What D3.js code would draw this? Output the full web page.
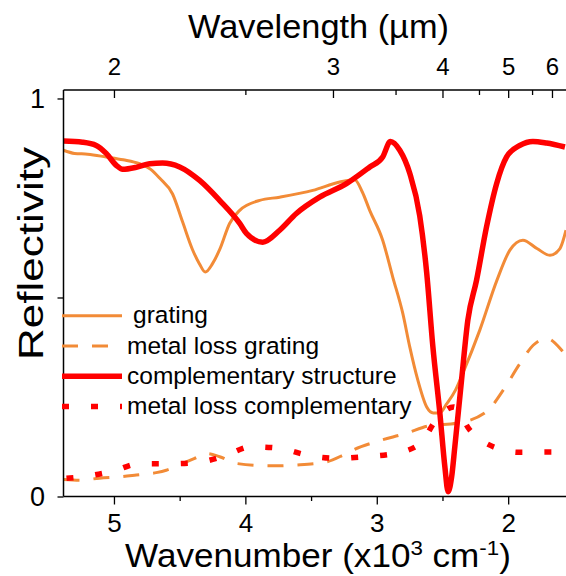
<!DOCTYPE html>
<html><head><meta charset="utf-8">
<script src="https://cdn.jsdelivr.net/npm/d3@7"></script>
<style>body{margin:0;background:#fff}svg{display:block}text{font-family:"Liberation Sans",Arial,sans-serif;fill:#000}</style>
</head><body><svg id="c" width="566" height="576"></svg>
<script>
// wavenumber in x10^3 cm^-1, reflectivity
const gratingX = [5.384,5.30,5.20,5.059,4.93,4.805,4.72,4.653,4.554,4.478,4.402,4.35,4.305,4.25,4.196,4.120,4.043,3.891,3.739,3.487,3.282,3.168,3.11,3.054,2.955,2.879,2.802,2.749,2.688,2.620,2.57,2.52,2.47,2.40,2.345,2.216,2.086,1.987,1.888,1.781,1.682,1.606,1.56];
const gratingY = [0.870,0.862,0.860,0.853,0.846,0.836,0.822,0.800,0.760,0.690,0.620,0.585,0.564,0.585,0.620,0.686,0.719,0.744,0.752,0.769,0.790,0.796,0.765,0.719,0.644,0.552,0.460,0.376,0.293,0.225,0.210,0.210,0.232,0.268,0.310,0.418,0.543,0.619,0.644,0.623,0.606,0.623,0.669];

const lossGratingX = [5.384,5.262,5.110,4.935,4.830,4.678,4.602,4.478,4.386,4.297,4.196,4.069,3.792,3.612,3.383,3.257,3.180,3.002,2.774,2.596,2.393,2.165,2.038,1.911,1.810,1.708,1.581,1.56];
const lossGratingY = [0.043,0.041,0.046,0.050,0.054,0.060,0.066,0.083,0.096,0.108,0.100,0.083,0.077,0.079,0.087,0.104,0.117,0.138,0.159,0.178,0.184,0.213,0.267,0.334,0.380,0.397,0.363,0.355];

const compX = [5.384,5.239,5.135,5.059,4.982,4.935,4.830,4.729,4.630,4.500,4.348,4.196,4.043,3.992,3.868,3.739,3.612,3.435,3.231,3.053,2.955,2.896,2.825,2.749,2.673,2.621,2.573,2.520,2.482,2.457,2.430,2.406,2.355,2.307,2.241,2.165,2.088,2.012,1.911,1.812,1.708,1.568];
const compY = [0.893,0.890,0.882,0.862,0.832,0.822,0.827,0.836,0.838,0.828,0.794,0.744,0.686,0.661,0.639,0.669,0.711,0.752,0.786,0.828,0.853,0.892,0.870,0.812,0.705,0.565,0.376,0.210,0.075,0.012,0.050,0.125,0.292,0.443,0.543,0.677,0.786,0.853,0.882,0.892,0.888,0.878];

const lossCompX = [5.384,5.211,4.995,4.813,4.592,4.373,4.158,3.954,3.739,3.531,3.312,3.091,2.880,2.667,2.558,2.414,2.292,2.114,1.911,1.695,1.56];
const lossCompY = [0.045,0.051,0.065,0.082,0.082,0.085,0.102,0.125,0.121,0.104,0.096,0.100,0.107,0.133,0.188,0.225,0.167,0.125,0.111,0.112,0.112];

const bottomTicks = [5,4,3,2];
const bottomMinor = [4.5,3.5,2.5];
const topTicks = [2,3,4,5,6];          // wavelength, um
const topMinor = [2.5,3.5,4.5,5.5];
const yTicks = [0,0.5,1];
const yLabels = {0:"0",1:"1"};

const legendItems = [
  {label:"grating", color:"#F28B37", width:3, dash:null, dx:6},
  {label:"metal loss grating", color:"#F28B37", width:3, dash:"16,14", dx:0},
  {label:"complementary structure", color:"#FF0000", width:5.5, dash:null, dx:0},
  {label:"metal loss complementary", color:"#FF0000", width:5.5, dash:"7,22", dx:0}
];

const svg = d3.select("#c");
const L=63.5, R=566, T=90, B=496.5;
const x = d3.scaleLinear().domain([5.384,1.56]).range([L,R]);
const y = d3.scaleLinear().domain([0,1.0213]).range([B,T]);

const line = d3.line().x(d=>x(d[0])).y(d=>y(d[1])).curve(d3.curveMonotoneX);
const zip=(a,b)=>a.map((v,i)=>[v,b[i]]);

const series = [
  {d:zip(gratingX,gratingY), it:legendItems[0]},
  {d:zip(lossGratingX,lossGratingY), it:legendItems[1]},
  {d:zip(compX,compY), it:legendItems[2]},
  {d:zip(lossCompX,lossCompY), it:legendItems[3]}
];
const plot = svg.append("g");
svg.append("clipPath").attr("id","cp").append("rect").attr("x",L).attr("y",T).attr("width",R-L+2).attr("height",B-T);
plot.attr("clip-path","url(#cp)");
series.forEach(s=>{
  plot.append("path").attr("d",line(s.d)).attr("fill","none")
    .attr("stroke",s.it.color).attr("stroke-width",s.it.width)
    .attr("stroke-dasharray",s.it.dash).attr("stroke-dashoffset", s.it.dash==="7,22"? -3: 0)
    .attr("stroke-linejoin","round");
});

// axes
function styleAxis(g,fs){
  g.select(".domain").remove();
  g.selectAll(".tick line").attr("stroke","#000").attr("stroke-width",1.3);
  g.selectAll("text").attr("font-size",fs).attr("fill","#000").attr("font-family",'"Liberation Sans",Arial,sans-serif');
}
const gb = svg.append("g").attr("transform",`translate(0,${B})`)
  .call(d3.axisBottom(x).tickValues(bottomTicks).tickSize(8).tickPadding(9).tickFormat(d3.format("d")));
styleAxis(gb,26);
const gbm = svg.append("g").attr("transform",`translate(0,${B})`)
  .call(d3.axisBottom(x).tickValues(bottomMinor).tickSize(4.5).tickFormat(""));
styleAxis(gbm,26);

const gt = svg.append("g").attr("transform",`translate(0,${T})`)
  .call(d3.axisTop(x).tickValues(topTicks.map(l=>10/l)).tickSize(-8).tickPadding(15).tickFormat((d,i)=>topTicks[i]));
styleAxis(gt,24);
const gtm = svg.append("g").attr("transform",`translate(0,${T})`)
  .call(d3.axisTop(x).tickValues(topMinor.map(l=>10/l)).tickSize(-5).tickFormat(""));
styleAxis(gtm,24);

const gl = svg.append("g").attr("transform",`translate(${L},0)`)
  .call(d3.axisLeft(y).tickValues(yTicks).tickSize(6).tickPadding(12.5).tickFormat(d=>yLabels[d]||""));
styleAxis(gl,27);

// frame lines
svg.append("line").attr("x1",L).attr("x2",R).attr("y1",B).attr("y2",B).attr("stroke","#000").attr("stroke-width",1.5);
svg.append("line").attr("x1",L).attr("x2",R).attr("y1",T).attr("y2",T).attr("stroke","#000").attr("stroke-width",1.5);
svg.append("line").attr("x1",L).attr("x2",L).attr("y1",T).attr("y2",B).attr("stroke","#000").attr("stroke-width",1.5);

// legend
const lg = svg.append("g");
legendItems.forEach((it,i)=>{
  const yy = 315.7 + i*30.3;
  lg.append("line").attr("x1",62).attr("x2",122).attr("y1",yy).attr("y2",yy)
    .attr("stroke",it.color).attr("stroke-width",it.width).attr("stroke-dasharray",it.dash);
  lg.append("text").attr("x",127+it.dx).attr("y",yy+7.5).attr("font-size",24.5).text(it.label);
});

// titles fitted to measured extents
function fit(t, cx, cy, w, rot){
  const n = t.node().getComputedTextLength();
  t.attr("text-anchor","middle").attr("transform",`translate(${cx},${cy})${rot?" rotate(-90)":""} scale(${w/n},1)`);
}
const tt = svg.append("text").attr("font-size",33).text("Wavelength (µm)");
fit(tt, 318.5, 37.5, 261);
const bt = svg.append("text").attr("font-size",33);
bt.append("tspan").text("Wavenumber (x10");
bt.append("tspan").attr("font-size",21).attr("dy",-12).text("3");
bt.append("tspan").attr("dy",12).text(" cm");
bt.append("tspan").attr("font-size",21).attr("dy",-12).text("-1");
bt.append("tspan").attr("dy",12).text(")");
fit(bt, 318, 567, 386);
const yt = svg.append("text").attr("font-size",36).text("Reflectivity");
fit(yt, 43, 253.5, 213, true);
</script></body></html>
